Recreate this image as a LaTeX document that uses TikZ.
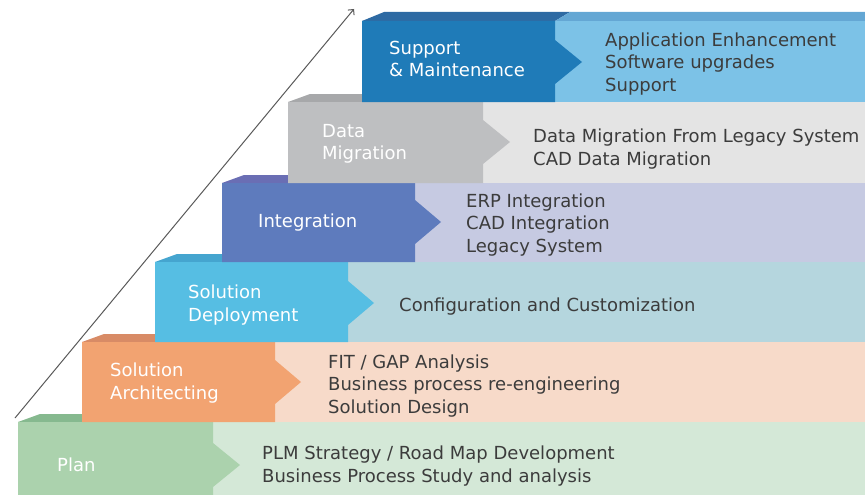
\documentclass[tikz,border=0pt]{standalone}
\usepackage{fontspec}
\setmainfont{DejaVu Sans}
\usetikzlibrary{arrows.meta}

\definecolor{txtgrey}{HTML}{3C3C3C}
% step colours: dark label, light body, dark top, light top
\definecolor{plandark}{HTML}{ABD2AD}
\definecolor{planlight}{HTML}{D4E8D7}
\definecolor{plantopd}{HTML}{86B98F}
\definecolor{plantopl}{HTML}{C0DCC4}
\definecolor{archdark}{HTML}{F2A371}
\definecolor{archlight}{HTML}{F7DAC9}
\definecolor{archtopd}{HTML}{D88B66}
\definecolor{archtopl}{HTML}{EEC6B3}
\definecolor{depldark}{HTML}{56BEE3}
\definecolor{depllight}{HTML}{B5D6DE}
\definecolor{depltopd}{HTML}{45A5CF}
\definecolor{depltopl}{HTML}{A3C8D2}
\definecolor{intdark}{HTML}{5E7BBD}
\definecolor{intlight}{HTML}{C6CAE2}
\definecolor{inttopd}{HTML}{6A6EB4}
\definecolor{inttopl}{HTML}{B5B9D8}
\definecolor{datadark}{HTML}{BEBFC1}
\definecolor{datalight}{HTML}{E4E4E4}
\definecolor{datatopd}{HTML}{A7A8AA}
\definecolor{datatopl}{HTML}{D4D4D4}
\definecolor{supdark}{HTML}{1F7BB8}
\definecolor{suplight}{HTML}{7CC2E7}
\definecolor{suptopd}{HTML}{2E6AA3}
\definecolor{suptopl}{HTML}{64A7D4}

\tikzset{
  steplabel/.style={text=white, align=left, inner sep=0pt},
  stepitems/.style={text=txtgrey, align=left, inner sep=0pt},
}

\begin{document}
\begin{tikzpicture}[x=1pt, y=-1pt, font=\fontsize{18}{22.5}\selectfont]
\useasboundingbox (0,0) rectangle (865,495);

% lowest step first, every higher step covers the top edge of the one below

% plan
\fill[plantopd] (18,422) -- (40,414) -- (228,414) -- (213,422) -- cycle;
\fill[plantopl] (213,422) -- (228,414) -- (865,414) -- (865,422) -- cycle;
\fill[planlight] (213,422) rectangle (865,495);
\fill[plandark] (18,422) -- (213,422) -- (213,443) -- (240,465) -- (213,487) -- (213,495) -- (18,495) -- cycle;

% solution architecting
\fill[archtopd] (82,342) -- (104,334) -- (290,334) -- (275,342) -- cycle;
\fill[archtopl] (275,342) -- (290,334) -- (865,334) -- (865,342) -- cycle;
\fill[archlight] (275,342) rectangle (865,422);
\fill[archdark] (82,342) -- (275,342) -- (275,360) -- (301,382) -- (275,404) -- (275,422) -- (82,422) -- cycle;

% solution deployment
\fill[depltopd] (155,262) -- (177,254) -- (363,254) -- (348,262) -- cycle;
\fill[depltopl] (348,262) -- (363,254) -- (865,254) -- (865,262) -- cycle;
\fill[depllight] (348,262) rectangle (865,342);
\fill[depldark] (155,262) -- (348,262) -- (348,281) -- (374,303) -- (348,325) -- (348,342) -- (155,342) -- cycle;

% integration
\fill[inttopd] (222,183) -- (244,175) -- (430,175) -- (415,183) -- cycle;
\fill[inttopl] (415,183) -- (430,175) -- (865,175) -- (865,183) -- cycle;
\fill[intlight] (415,183) rectangle (865,262);
\fill[intdark] (222,183) -- (415,183) -- (415,200) -- (441,222) -- (415,244) -- (415,262) -- (222,262) -- cycle;

% data migration
\fill[datatopd] (288,102) -- (310,94) -- (498,94) -- (483,102) -- cycle;
\fill[datatopl] (483,102) -- (498,94) -- (865,94) -- (865,102) -- cycle;
\fill[datalight] (483,102) rectangle (865,183);
\fill[datadark] (288,102) -- (483,102) -- (483,120) -- (510,142) -- (483,164) -- (483,183) -- (288,183) -- cycle;

% support and maintenance
\fill[suptopd] (362,21) -- (384,12) -- (570,12) -- (555,21) -- cycle;
\fill[suptopl] (555,21) -- (570,12) -- (865,12) -- (865,21) -- cycle;
\fill[suplight] (555,21) rectangle (865,102);
\fill[supdark] (362,21) -- (555,21) -- (555,40) -- (582,62) -- (555,84) -- (555,102) -- (362,102) -- cycle;

% step names
\node[right, steplabel] (plan) at (57,465) {Plan};
\node[right, steplabel] (arch) at (110,383) {Solution\\Architecting};
\node[right, steplabel] (depl) at (188,305) {Solution\\Deployment};
\node[right, steplabel] (integ) at (258,223) {Integration};
\node[right, steplabel] (data) at (322,144) {Data\\Migration};
\node[right, steplabel] (supp) at (389,59) {Support\\\& Maintenance};

% what each step holds
\node[right, stepitems] (planitems) at (262,466) {PLM Strategy / Road Map Development\\Business Process Study and analysis};
\node[right, stepitems] (architems) at (328,386) {FIT / GAP Analysis\\Business process re-engineering\\Solution Design};
\node[right, stepitems] (deplitems) at (399,307) {Configuration and Customization};
\node[right, stepitems] (integitems) at (466,225) {ERP Integration\\CAD Integration\\Legacy System};
\node[right, stepitems] (dataitems) at (533,149) {Data Migration From Legacy System\\CAD Data Migration};
\node[right, stepitems] (suppitems) at (605,64) {Application Enhancement\\Software upgrades\\Support};

% rising arrow along the stair
\coordinate (rise0) at (15,418);
\coordinate (rise1) at (354,9);
\draw[-{Straight Barb[length=4pt, width=8pt]}, draw=black!65, line width=1pt] (rise0) -- (rise1);

\end{tikzpicture}
\end{document}
